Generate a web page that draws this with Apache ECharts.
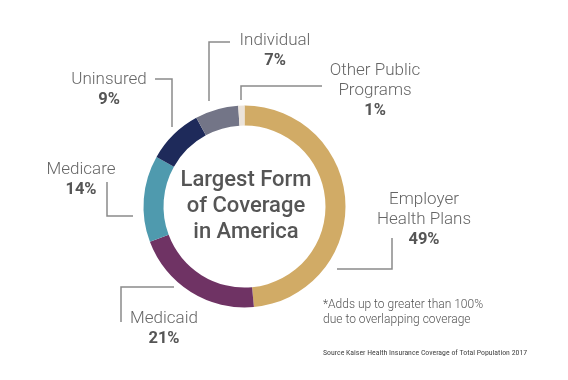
<!DOCTYPE html>
<html>
<head>
<meta charset="utf-8">
<script src="https://cdn.jsdelivr.net/npm/echarts@6/dist/echarts.min.js"></script>
<style>html,body{margin:0;padding:0;background:#fff}#c{width:568px;height:380px}</style>
</head>
<body>
<div id="c"></div>
<script>
var categories = ['Employer\nHealth Plans', 'Medicaid', 'Medicare', 'Uninsured', 'Individual', 'Other Public\nPrograms'];
var values = [49, 21, 14, 9, 7, 1];
var colors = ['#d1ab66', '#6f3364', '#4f9aae', '#1e2a5a', '#737587', '#ebe3da'];
var centerTitle = 'Largest Form\nof Coverage\nin America';
var footnote = '*Adds up to greater than 100%\ndue to overlapping coverage';
var source = 'Source Kaiser Health Insurance Coverage of Total Population 2017';

// label layout (annotation placement): label centre and elbow leader line
var labelPlaces = [
  {x: 424, y: 220, line: [[337, 269], [392, 269], [392, 238]]},
  {x: 164, y: 329, line: [[174, 287], [121, 287], [121, 322]]},
  {x: 81, y: 180, line: [[133, 216], [107, 216], [107, 182]]},
  {x: 109, y: 90, line: [[172, 127], [172, 79], [155, 79]]},
  {x: 275, y: 51, line: [[209, 101], [209, 42], [230, 42]]},
  {x: 375, y: 91, line: [[241, 100], [241, 86], [322, 86]]}
];

var chart = echarts.init(document.getElementById('c'), null, {renderer: 'canvas'});
chart.setOption({
  backgroundColor: '#ffffff',
  animation: false,
  series: [{
    type: 'pie',
    center: [244.5, 206.5],
    radius: [81, 101],
    startAngle: 90,
    clockwise: true,
    avoidLabelOverlap: false,
    data: categories.map(function (c, i) {
      return {name: c, value: values[i], itemStyle: {color: colors[i]}};
    }),
    label: {
      show: true,
      position: 'outside',
      align: 'center',
      formatter: function (p) {
        return p.name.split('\n').map(function (s) { return '{n|' + s + '}'; }).join('\n') + '\n{p|' + p.value + '%}';
      },
      rich: {
        n: {fontFamily: 'Roboto', fontWeight: 300, fontSize: 17, color: '#666666', lineHeight: 20, align: 'center'},
        p: {fontFamily: 'Roboto', fontWeight: 'bold', fontSize: 16.5, color: '#555555', lineHeight: 21, align: 'center'}
      }
    },
    labelLine: {show: true, lineStyle: {color: '#8a8a8a', width: 1.5}},
    labelLayout: function (params) {
      var lp = labelPlaces[params.dataIndex];
      return {x: lp.x, y: lp.y, align: 'center', verticalAlign: 'middle', labelLinePoints: lp.line};
    },
    emphasis: {disabled: true}
  }],
  graphic: [
    {type: 'text', x: 246, y: 206, style: {text: centerTitle, fontFamily: 'Roboto', fontWeight: 500, fontSize: 22, lineHeight: 26, fill: '#555555', align: 'center', verticalAlign: 'middle'}},
    {type: 'text', x: 323, y: 312, style: {text: footnote, fontFamily: 'Roboto', fontWeight: 300, fontSize: 12, lineHeight: 15, fill: '#555555', align: 'left', verticalAlign: 'middle'}},
    {type: 'text', x: 323, y: 353, style: {text: source, fontFamily: 'Liberation Sans Narrow, Roboto Condensed, Arial', fontSize: 7.8, fill: '#444444', align: 'left', verticalAlign: 'middle'}}
  ]
});
</script>
</body>
</html>
